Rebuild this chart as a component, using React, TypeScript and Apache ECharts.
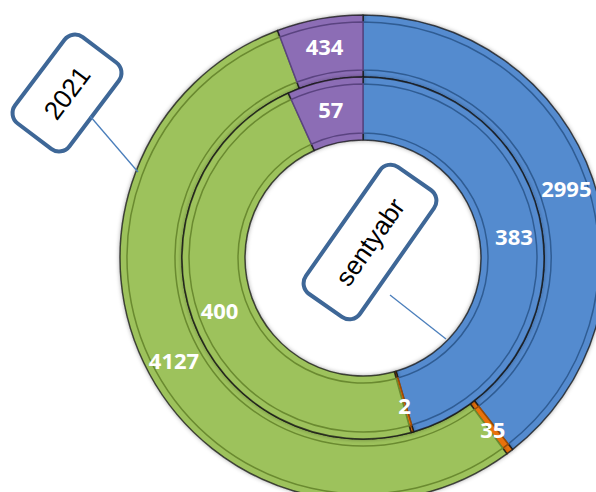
import React, { useEffect, useRef } from "react";
import * as echarts from "echarts";

const categories = ["A", "B", "C", "D"];
const outerValues = [2995, 35, 4127, 434]; // series "2021"
const innerValues = [383, 2, 400, 57]; // series "sentyabr"
const seriesNames = ["2021", "sentyabr"];
const colors = ["#548BCF", "#E8720C", "#9DC25C", "#8C6DB5"];
const darkColors = ["#2F5C93", "#9A4A06", "#6A8A30", "#5A4380"];

const CX = 363;
const CY = 258;

function makeData(values: number[], inset: boolean) {
  return values.map((v, i) => ({
    name: categories[i],
    value: v,
    itemStyle: {
      color: colors[i],
      borderColor: inset ? darkColors[i] : "rgba(20,20,20,0.75)",
    },
  }));
}

function callout(cx: number, cy: number, w: number, h: number, rotDeg: number, text: string) {
  return {
    type: "group",
    x: cx,
    y: cy,
    rotation: (rotDeg * Math.PI) / 180,
    z: 100,
    children: [
      {
        type: "rect",
        shape: { x: -w / 2, y: -h / 2, width: w, height: h, r: 13 },
        style: { fill: "#ffffff", stroke: "#3E6797", lineWidth: 4 },
      },
      {
        type: "text",
        x: 0,
        y: 0,
        style: {
          text,
          fill: "#000000",
          font: "26px 'Liberation Sans', Arial, sans-serif",
          align: "center",
          verticalAlign: "middle",
        },
      },
    ],
  };
}

export default function App() {
  const ref = useRef<HTMLDivElement>(null);
  useEffect(() => {
    if (!ref.current) return;
    const chart = echarts.init(ref.current, undefined, { renderer: "svg" });
    const baseSeries = (name: string, values: number[], radius: number[]) => ({
      type: "pie",
      name,
      center: [CX, CY],
      radius,
      startAngle: 90,
      clockwise: true,
      silent: true,
      avoidLabelOverlap: false,
      label: { show: false },
      labelLine: { show: false },
      emphasis: { disabled: true },
      itemStyle: {
        borderWidth: 1.5,
        shadowBlur: 4,
        shadowColor: "rgba(0,0,0,0.35)",
      },
      data: makeData(values, false),
    });
    const insetSeries = (name: string, values: number[], radius: number[]) => ({
      type: "pie",
      name,
      center: [CX, CY],
      radius,
      startAngle: 90,
      clockwise: true,
      silent: true,
      avoidLabelOverlap: false,
      minShowLabelAngle: 0,
      label: {
        show: true,
        position: "inside",
        formatter: "{c}",
        color: "#ffffff",
        fontWeight: "bold",
        fontSize: 22,
        fontFamily: "'Open Sans', sans-serif",
      },
      labelLine: { show: false },
      emphasis: { disabled: true },
      itemStyle: { borderWidth: 1.5 },
      data: makeData(values, true),
    });
    chart.setOption({
      animation: false,
      backgroundColor: "#ffffff",
      series: [
        baseSeries(seriesNames[0], outerValues, [181, 243]),
        insetSeries(seriesNames[0], outerValues, [188, 236]),
        baseSeries(seriesNames[1], innerValues, [118, 181]),
        insetSeries(seriesNames[1], innerValues, [125, 174]),
      ],
      graphic: [
        {
          type: "line",
          shape: { x1: 90, y1: 116, x2: 138, y2: 172 },
          style: { stroke: "#4A7EBB", lineWidth: 1.3 },
          z: 90,
        },
        {
          type: "line",
          shape: { x1: 390, y1: 295, x2: 446, y2: 339 },
          style: { stroke: "#4A7EBB", lineWidth: 1.3 },
          z: 90,
        },
        callout(67, 93, 108, 68, 53, seriesNames[0]),
        callout(370, 242, 155, 66, 55, seriesNames[1]),
      ],
    });
    return () => chart.dispose();
  }, []);
  return (
    <div
      ref={ref}
      style={{ position: "fixed", left: 0, top: 0, width: 596, height: 492 }}
    />
  );
}
